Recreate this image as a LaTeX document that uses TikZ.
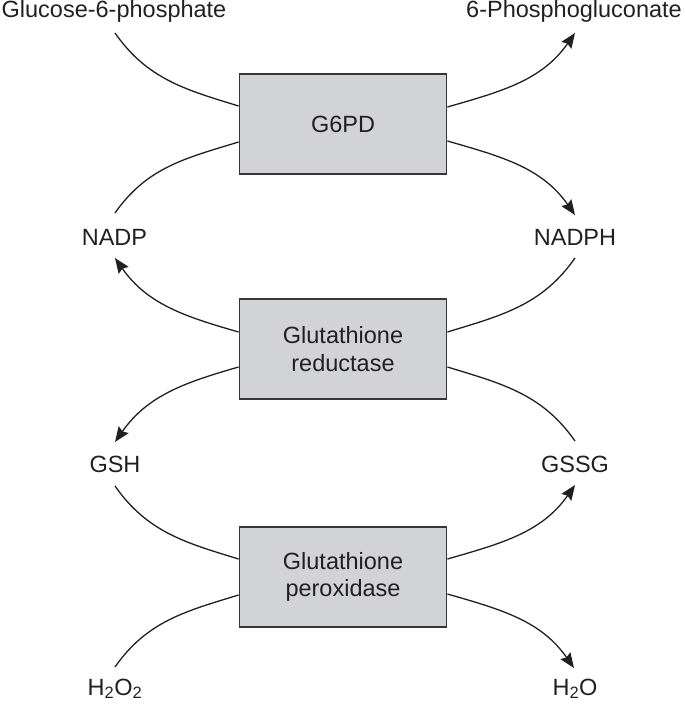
\documentclass[tikz,border=0pt]{standalone}
\usepackage{fontspec}
\setmainfont{Liberation Sans}
\usetikzlibrary{arrows.meta}
\definecolor{boxfill}{RGB}{210,211,213}
\definecolor{ink}{RGB}{35,31,32}
\begin{document}
\begin{tikzpicture}[x=1pt,y=1pt,
  lbl/.style={anchor=base, inner sep=0pt, text=ink, font=\fontsize{23.5}{27.5}\selectfont},
  enzyme/.style={draw=ink!90, line width=1.8pt, fill=boxfill, minimum width=207pt, minimum height=100pt, inner sep=0pt, align=center, text=ink, font=\fontsize{23.5}{27.5}\selectfont},
  flow/.style={draw=ink, line width=1.3pt},
  arr/.style={flow, -{Stealth[length=15pt,width=12pt,inset=2pt]}}]
\useasboundingbox (0,0) rectangle (685,-704);
% labels
\node[lbl] (g6p)   at (114,-17.3) {Glucose-6-phosphate};
\node[lbl] (pg)    at (574,-17.3) {6-Phosphogluconate};
\node[lbl] (nadp)  at (114.5,-245) {NADP};
\node[lbl] (nadph) at (575,-245) {NADPH};
\node[lbl] (gsh)   at (115,-472) {GSH};
\node[lbl] (gssg)  at (575,-472) {GSSG};
\node[lbl] (h2o2)  at (115,-695) {H\textsubscript{2}O\textsubscript{2}};
\node[lbl] (h2o)   at (575,-695) {H\textsubscript{2}O};
% enzymes
\node[enzyme] (g6pd) at (343,-124) {G6PD};
\node[enzyme] (gr)   at (343,-349) {Glutathione\\reductase};
\node[enzyme] (gpx)  at (343,-577) {Glutathione\\peroxidase};
% free ends
\coordinate (g6pS)  at (115,-33);
\coordinate (pgT)   at (575,-33);
\coordinate (nadpS) at (115,-213);
\coordinate (nadphT) at (575,-215);
\coordinate (nadphS) at (575,-258);
\coordinate (nadpT) at (115,-258);
\coordinate (gshT)  at (115,-442);
\coordinate (gssgS) at (575,-441);
\coordinate (gshS)  at (115,-486);
\coordinate (gssgT) at (575,-485);
\coordinate (h2o2S) at (115,-667);
\coordinate (h2oT)  at (574,-668);
% G6PD
\draw[flow] (g6pS) to[out=-55,in=163] ([yshift=18pt]g6pd.west);
\draw[arr] ([yshift=17pt]g6pd.east) to[out=16,in=-125] (pgT);
\draw[flow] (nadpS) to[out=55,in=197] ([yshift=-18pt]g6pd.west);
\draw[arr] ([yshift=-17pt]g6pd.east) to[out=-16,in=125] (nadphT);
% reductase
\draw[flow] (nadphS) to[out=235,in=17] ([yshift=17pt]gr.east);
\draw[arr] ([yshift=17pt]gr.west) to[out=164,in=-55] (nadpT);
\draw[arr] ([yshift=-18pt]gr.west) to[out=196,in=55] (gshT);
\draw[flow] (gssgS) to[out=125,in=-17] ([yshift=-18pt]gr.east);
% peroxidase
\draw[flow] (gshS) to[out=-55,in=163] ([yshift=18pt]gpx.west);
\draw[arr] ([yshift=18pt]gpx.east) to[out=16,in=-125] (gssgT);
\draw[flow] (h2o2S) to[out=55,in=197] ([yshift=-18pt]gpx.west);
\draw[arr] ([yshift=-17pt]gpx.east) to[out=-16,in=125] (h2oT);
\end{tikzpicture}
\end{document}
